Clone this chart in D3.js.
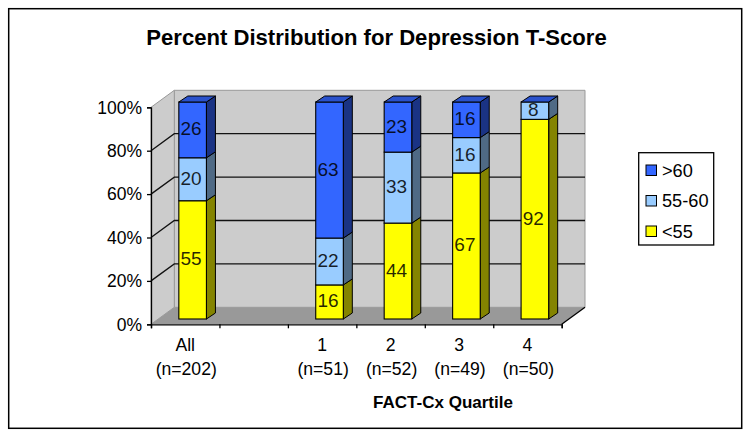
<!DOCTYPE html>
<html><head><meta charset="utf-8">
<script src="https://cdn.jsdelivr.net/npm/d3@7/dist/d3.min.js"></script>
<style>html,body{margin:0;padding:0;background:#fff}svg{display:block}text{font-family:"Liberation Sans",Arial,sans-serif;fill:#000}</style>
</head><body><svg id="c" width="751" height="438"></svg>
<script>
const categories = ["All", "", "1", "2", "3", "4"];
const sampleLabels = ["(n=202)", "", "(n=51)", "(n=52)", "(n=49)", "(n=50)"];
const seriesNames = ["<55", "55-60", ">60"];
const low = [54.5, null, 15.7, 44.2, 67.3, 92];
const mid = [19.8, null, 21.6, 32.7, 16.3, 8];
const high = [25.7, null, 62.7, 23.1, 16.4, 0];
const yTicks = [0, 20, 40, 60, 80, 100];
const colors = ["#ffff00", "#99ccff", "#3366ff"];
const sideColors = ["#848400", "#4f6a85", "#1a3384"];
const topColors = ["#c9c900", "#7aa3cc", "#2a52cc"];

const svg = d3.select("#c");
svg.append("rect").attr("x",8.7).attr("y",8.7).attr("width",733).attr("height",419.6).attr("fill","#fff").attr("stroke","#000").attr("stroke-width",1.5);

svg.append("text").attr("x",376.5).attr("y",45).attr("text-anchor","middle").attr("font-weight","bold").attr("font-size",22.1).text("Percent Distribution for Depression T-Score");

const dx = 23.3, dy = 17;
const x = d3.scaleBand().domain(d3.range(categories.length)).range([151, 561.7]);
const y = d3.scaleLinear().domain([0,100]).range([324.3, 107.3]);

// walls
const backL = x.range()[0]+dx, backR = x.range()[1]+dx;
const y0 = y(0), y1 = y(100);
svg.append("polygon").attr("points",[[backL,y1-dy],[backR,y1-dy],[backR,y0-dy],[backL,y0-dy]].join(" ")).attr("fill","#cccccc").attr("stroke","#999").attr("stroke-width",1);
svg.append("polygon").attr("points",[[x.range()[0],y1],[backL,y1-dy],[backL,y0-dy],[x.range()[0],y0]].join(" ")).attr("fill","#cccccc").attr("stroke","#999").attr("stroke-width",1);
svg.append("polygon").attr("points",[[x.range()[0],y0],[backL,y0-dy],[backR,y0-dy],[x.range()[1],y0]].join(" ")).attr("fill","#999999");

// gridlines
yTicks.filter(t=>t>0&&t<100).forEach(t=>{
  svg.append("path").attr("d",`M${x.range()[0]},${y(t)}L${backL},${y(t)-dy}L${backR},${y(t)-dy}`).attr("fill","none").attr("stroke","#111").attr("stroke-width",1.3);
});

// axes
const yAxis = d3.axisLeft(y).tickValues(yTicks).tickSize(4).tickFormat(d=>d+"%");
const gy = svg.append("g").attr("transform",`translate(${x.range()[0]},0)`).call(yAxis);
gy.selectAll("text").attr("font-size",17.5).attr("x",-9).attr("dy","0.33em").style("fill","#000");
gy.selectAll("path,line").attr("stroke","#000").attr("stroke-width",1.3);
const xAxisScale = d3.scaleLinear().domain([0,categories.length]).range(x.range());
const gx = svg.append("g").attr("transform",`translate(0,${y0})`).call(d3.axisBottom(xAxisScale).tickValues(d3.range(categories.length+1)).tickSize(4).tickFormat(""));
gx.selectAll("path,line").attr("stroke","#000").attr("stroke-width",1.3);
svg.append("line").attr("x1",x.range()[1]).attr("y1",y0).attr("x2",backR).attr("y2",y0-dy).attr("stroke","#000").attr("stroke-width",1.3);

// stacked bars
const rows = categories.map((c,i)=>({i, "<55":low[i], "55-60":mid[i], ">60":high[i]})).filter(r=>r["<55"]!==null);
const stack = d3.stack().keys(seriesNames).offset(d3.stackOffsetExpand)(rows);
const barW = 27.6, depth = 9, lift = 6, shiftX = 7.4, shiftY = 5.3;
const bars = svg.append("g");
stack.forEach((s,si)=>{
  s.forEach(d=>{
    const l = x(d.data.i)+x.bandwidth()/2+shiftX-barW/2, r=l+barW;
    const t = y(d[1]*100)-shiftY, b=y(d[0]*100)-shiftY;
    if(d[1]-d[0] > 0){
      bars.append("polygon").attr("points",[[r,t],[r+depth,t-lift],[r+depth,b-lift],[r,b]].join(" ")).attr("fill",sideColors[si]).attr("stroke","#000").attr("stroke-width",1);
      bars.append("rect").attr("x",l).attr("y",t).attr("width",barW).attr("height",b-t).attr("fill",colors[si]).attr("stroke","#000").attr("stroke-width",1.1);
      bars.append("text").attr("x",(l+r)/2-1.5).attr("y",(t+b)/2+5.5).attr("text-anchor","middle").attr("font-size",19).attr("fill-opacity",.85).text(Math.round(d.data[s.key]));
    }
    if(si===stack.length-1) bars.append("polygon").attr("points",[[l,t],[l+depth,t-lift],[r+depth,t-lift],[r,t]].join(" ")).attr("fill",topColors[si]).attr("stroke","#000").attr("stroke-width",1);
  });
});

// category labels
categories.forEach((c,i)=>{
  const cx = x(i)+x.bandwidth()/2;
  svg.append("text").attr("x",cx).attr("y",351).attr("text-anchor","middle").attr("font-size",17.6).text(c);
  svg.append("text").attr("x",cx+1).attr("y",374.5).attr("text-anchor","middle").attr("font-size",17.6).text(sampleLabels[i]);
});
svg.append("text").attr("x",443).attr("y",407.5).attr("text-anchor","middle").attr("font-weight","bold").attr("font-size",17).text("FACT-Cx Quartile");

// legend
svg.append("rect").attr("x",638.7).attr("y",152.7).attr("width",75).attr("height",92.3).attr("fill","#fff").attr("stroke","#000").attr("stroke-width",1.3);
[2,1,0].forEach((si,k)=>{
  const ly = 170+k*30.5;
  svg.append("rect").attr("x",646).attr("y",ly-5).attr("width",10.5).attr("height",10.5).attr("fill",colors[si]).attr("stroke","#000");
  svg.append("text").attr("x",662).attr("y",ly+6.5).attr("font-size",18.2).text(seriesNames[si]);
});
</script></body></html>
